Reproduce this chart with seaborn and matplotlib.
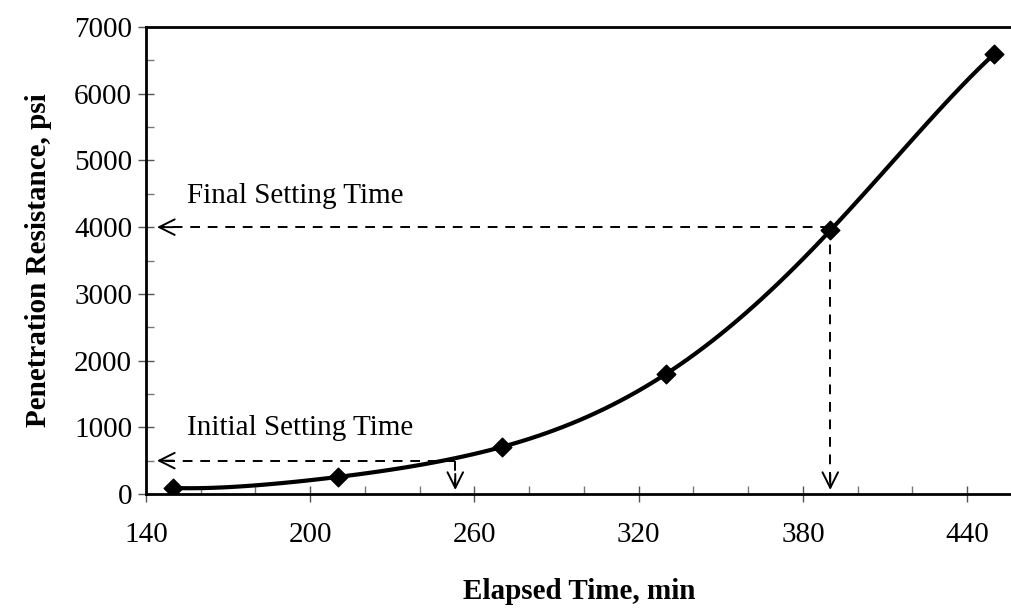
import matplotlib
matplotlib.use("Agg")
import matplotlib.pyplot as plt
import seaborn as sns
import pandas as pd
import numpy as np
from matplotlib.ticker import MultipleLocator

# ---- data ----
elapsed_min = [150, 210, 270, 330, 390, 450]
resistance_psi = [90, 255, 705, 1800, 3950, 6600]
initial_set_time = 253
initial_set_psi = 500
final_set_time = 390
final_set_psi = 4000
x_ticks = [140, 200, 260, 320, 380, 440]
y_ticks = [0, 1000, 2000, 3000, 4000, 5000, 6000, 7000]

df = pd.DataFrame({"Elapsed Time, min": elapsed_min,
                   "Penetration Resistance, psi": resistance_psi})

sns.set_theme(style="white", rc={"text.color": "black", "axes.labelcolor": "black",
                                 "xtick.color": "black", "ytick.color": "black"})
plt.rcParams["font.family"] = ["Liberation Serif", "DejaVu Serif"]

fig = plt.figure(figsize=(10.12, 6.10), dpi=100)
ax = fig.add_axes([146 / 1012, 1 - 494 / 610, 1 - 146 / 1012, (494 - 27) / 610])

sns.regplot(data=df, x="Elapsed Time, min", y="Penetration Resistance, psi",
            order=5, ci=None, truncate=True, color="black", ax=ax,
            marker="D", scatter_kws=dict(s=90, alpha=1, zorder=5, edgecolors="black"),
            line_kws=dict(lw=3, solid_capstyle="round"))

dash = (0, (5, 4))
# Final setting time
ax.plot([final_set_time, 146], [final_set_psi, final_set_psi], color="black", lw=1.4, ls=dash)
ax.plot([final_set_time, final_set_time], [final_set_psi, 90], color="black", lw=1.4, ls=dash)
# Initial setting time
ax.plot([initial_set_time, 146], [initial_set_psi, initial_set_psi], color="black", lw=1.4, ls=dash)
ax.plot([initial_set_time, initial_set_time], [initial_set_psi, 90], color="black", lw=1.4, ls=dash)

head = dict(arrowstyle="->", color="black", lw=1.4, mutation_scale=28, shrinkA=0, shrinkB=0)
ax.annotate("", xy=(144, final_set_psi), xytext=(150, final_set_psi), arrowprops=head)
ax.annotate("", xy=(144, initial_set_psi), xytext=(150, initial_set_psi), arrowprops=head)
ax.annotate("", xy=(final_set_time, 60), xytext=(final_set_time, 300), arrowprops=head)
ax.annotate("", xy=(initial_set_time, 60), xytext=(initial_set_time, 300), arrowprops=head)

ax.text(155, 4470, "Final Setting Time", fontsize=21, va="center", ha="left")
ax.text(155, 990, "Initial Setting Time", fontsize=21, va="center", ha="left")

ax.set_xlim(140, 456.4)
ax.set_ylim(0, 7000)
ax.set_xticks(x_ticks)
ax.set_yticks(y_ticks)
ax.xaxis.set_minor_locator(MultipleLocator(20))
ax.yaxis.set_minor_locator(MultipleLocator(500))
ax.tick_params(which="major", direction="inout", length=12, width=1, color="#555555",
               labelsize=21, pad=4, labelcolor="black")
ax.tick_params(which="minor", direction="in", length=6, width=1, color="#777777")
ax.tick_params(axis="x", which="major", pad=14)
ax.tick_params(axis="both", which="both", bottom=True, left=True, top=False, right=False)

for side in ["left", "bottom", "top"]:
    ax.spines[side].set_color("black")
    ax.spines[side].set_linewidth(2)
ax.spines["right"].set_visible(False)

ax.set_xlabel("Elapsed Time, min", fontsize=21, fontweight="bold", labelpad=22)
ax.set_ylabel("Penetration Resistance, psi", fontsize=21, fontweight="bold", labelpad=16)

fig.savefig("out.png", dpi=100)
